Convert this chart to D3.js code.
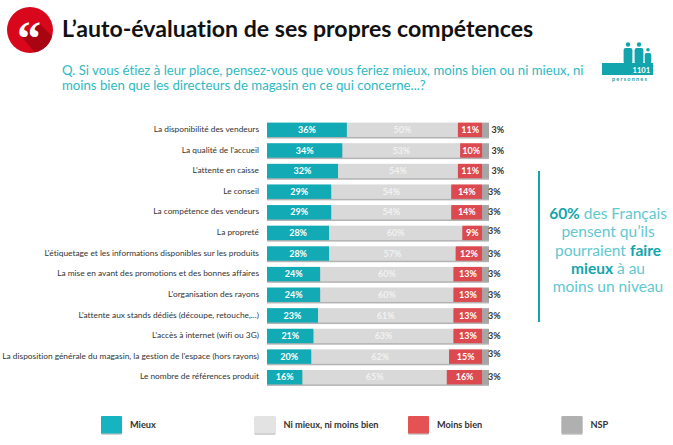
<!DOCTYPE html>
<html lang="fr"><head><meta charset="utf-8">
<script src="https://cdn.jsdelivr.net/npm/d3@7"></script>
<style>html,body{margin:0;padding:0;background:#fff}svg{display:block}text{font-family:"Lato",sans-serif;font-variant-ligatures:none}</style>
</head><body><svg id="c" width="673" height="445"></svg>
<script>
const categories=["La disponibilité des vendeurs","La qualité de l'accueil","L'attente en caisse","Le conseil","La compétence des vendeurs","La propreté","L'étiquetage et les informations disponibles sur les produits","La mise en avant des promotions et des bonnes affaires","L'organisation des rayons","L'attente aux stands dédiés (découpe, retouche,...)","L'accès à internet (wifi ou 3G)","La disposition générale du magasin, la gestion de l'espace (hors rayons)","Le nombre de références produit"];
const mieux=[36,34,32,29,29,28,28,24,24,23,21,20,16];
const neutre=[50,53,54,54,54,60,57,60,60,61,63,62,65];
const moins=[11,10,11,14,14,9,12,13,13,13,13,15,16];
const nsp=[3,3,3,3,3,3,3,3,3,3,3,3,3];
const seriesNames=["Mieux","Ni mieux, ni moins bien","Moins bien","NSP"];
const seriesValues=[mieux,neutre,moins,nsp];
const seriesColors=["#12abb5","#d9d9d9","#dc4a50","#a6a6a6"];
const legendColors=["#16b4c0","#e3e3e3","#e55254","#b0b0b0"];
const legendX=[101,254.5,408,561.5];
const title="L’auto-évaluation de ses propres compétences";
const question=["Q. Si vous étiez à leur place, pensez-vous que vous feriez mieux, moins bien ou ni mieux, ni","moins bien que les directeurs de magasin en ce qui concerne...?"];

const svg=d3.select("#c");
const defs=svg.append("defs");
const teal="#2fb9c2";
const x=d3.scaleLinear().domain([0,100]).range([267,489]);
const y=d3.scaleBand().domain(categories).range([119.5,387.5]).paddingInner(0.3).paddingOuter(0.15);

// Header
svg.append("circle").attr("cx",30).attr("cy",30).attr("r",23).attr("fill","#d8071c");
const clip=defs.append("clipPath").attr("id","cc");clip.append("circle").attr("cx",30).attr("cy",30).attr("r",23);
svg.append("path").attr("clip-path","url(#cc)").attr("fill","#a80412").attr("d","M20 35L38 56L56 40L38 22L30 30Z");
svg.append("text").attr("x",29).attr("y",55).attr("text-anchor","middle").attr("fill","#fff").attr("font-size",48).attr("font-weight",700).style("font-family","'Liberation Serif',serif").text("“");
svg.append("text").attr("x",62).attr("y",36.5).attr("font-size",23.1).attr("font-weight",700).attr("fill","#111").text(title);
svg.selectAll("text.q").data(question).join("text").attr("class","q").attr("x",62).attr("y",(d,i)=>74.5+i*15.5).attr("font-size",13.2).attr("fill",teal).text(d=>d);

// Respondent icon
const ic=svg.append("g").attr("fill","#12a5ad");
[[628,1],[639,1],[648,.75]].forEach(([cx,s])=>{
  ic.append("circle").attr("cx",cx).attr("cy",s<1?49.8:44.5).attr("r",s<1?1.8:2.2);
  ic.append("rect").attr("x",cx-4.4*s).attr("y",s<1?53:48).attr("width",8.8*s).attr("height",s<1?11:16).attr("rx",2);
});
ic.append("rect").attr("x",602).attr("y",63).attr("width",51).attr("height",12);
svg.append("text").attr("x",650).attr("y",72.5).attr("text-anchor","end").attr("font-size",7.5).attr("font-weight",700).attr("fill","#fff").text("1101");
svg.append("text").attr("x",630).attr("y",80.5).attr("text-anchor","middle").attr("font-size",5.5).attr("font-weight",700).attr("letter-spacing",1.2).attr("fill","#12a5ad").text("personnes");

// Bars
const rows=categories.map((c,i)=>{let acc=0;return seriesValues.map((v,k)=>{const r={c,i,k,v:v[i],x0:acc};acc+=v[i];return r;});});
const gRow=svg.selectAll("g.row").data(rows).join("g").attr("class","row");
gRow.append("rect").attr("x",x(0)).attr("y",d=>y(d[0].c)+1.5).attr("width",x(100)-x(0)).attr("height",y.bandwidth()).attr("fill","#999").attr("opacity",.75);
gRow.selectAll("rect.s").data(d=>d).join("rect").attr("class","s").attr("x",d=>x(d.x0)).attr("y",d=>y(d.c)).attr("width",d=>x(d.x0+d.v)-x(d.x0)).attr("height",y.bandwidth()).attr("fill",d=>seriesColors[d.k]);
gRow.selectAll("text.v").data(d=>d).join("text").attr("class","v")
 .attr("x",d=>d.k===3?(x(100)+(d.i<3?2.5:-1)):x(d.x0+d.v/2))
 .attr("y",d=>y(d.c)+y.bandwidth()/2+3.2-(d.k===3&&(d.i===5||d.i===11)?2.5:0))
 .attr("text-anchor",d=>d.k===3?"start":"middle").attr("font-size",9).attr("font-weight",700)
 .attr("fill",d=>d.k===3?"#333":(d.k===1?"#f1f1f1":"#fff")).text(d=>d.v+"%");
svg.selectAll("text.cat").data(categories).join("text").attr("class","cat").attr("x",259).attr("y",d=>y(d)+y.bandwidth()/2+2.2).attr("text-anchor","end").attr("font-size",8.35).attr("fill","#333").text(d=>d);

// Callout
svg.append("rect").attr("x",538).attr("y",171).attr("width",2).attr("height",151).attr("fill","#12a5ad");
const co=svg.append("g").attr("text-anchor","middle").style("font-size","15.5px");
const lines=[[["60%",1],[" des Français",0]],[["pensent qu’ils",0]],[["pourraient ",0],["faire",1]],[["mieux",1],[" à au",0]],[["moins un niveau",0]]];
lines.forEach((l,i)=>{const t=co.append("text").attr("x",608).attr("y",219+i*18.3);l.forEach(([s,b])=>t.append("tspan").attr("font-weight",b?700:400).attr("fill",b?"#12a5ad":"#62c8cf").text(s));});

// Legend
const lg=svg.selectAll("g.lg").data(seriesNames).join("g").attr("class","lg").attr("transform",(d,i)=>`translate(${legendX[i]},416)`);
lg.append("rect").attr("y",1.2).attr("width",21).attr("height",17.5).attr("rx",1).attr("fill","#999").attr("opacity",.6);
lg.append("rect").attr("width",21).attr("height",17.5).attr("rx",1).attr("fill",(d,i)=>legendColors[i]);
lg.append("text").attr("x",29).attr("y",12).attr("font-size",9.2).attr("font-weight",700).attr("fill","#333").text(d=>d);
</script></body></html>
